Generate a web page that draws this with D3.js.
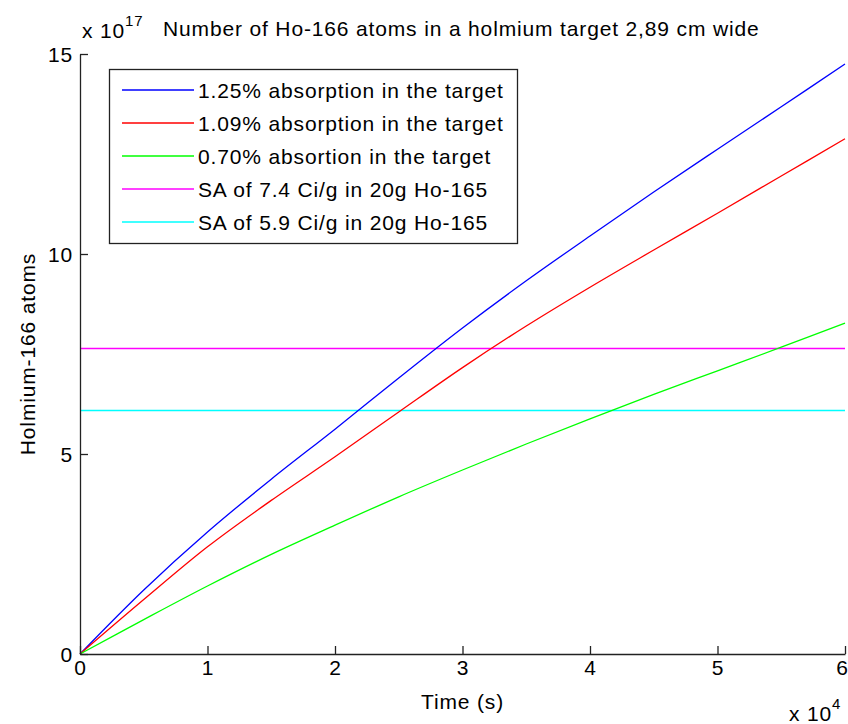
<!DOCTYPE html>
<html>
<head>
<meta charset="utf-8">
<script src="https://cdn.jsdelivr.net/npm/d3@7/dist/d3.min.js"></script>
<style>
  html, body { margin: 0; padding: 0; background: #fff; }
  svg { display: block; font-family: "Liberation Sans", Arial, sans-serif; }
  text { fill: #000; letter-spacing: 0.85px; }
</style>
</head>
<body>
<svg id="chart" width="848" height="724"></svg>
<script>
// Time in units of 10^4 s, atom counts in units of 10^17
const timeValues = [0, 0.5, 1, 1.5, 2, 2.5, 3, 3.5, 4, 4.5, 5, 5.5, 6];
const absorption125 = [0, 1.6, 3.05, 4.37, 5.62, 6.9, 8.15, 9.33, 10.45, 11.55, 12.62, 13.68, 14.75];
const absorption109 = [0, 1.36, 2.68, 3.84, 4.93, 6.05, 7.16, 8.2, 9.17, 10.1, 11.02, 11.95, 12.88];
const absorption070 = [0, 0.86, 1.7, 2.49, 3.22, 3.93, 4.6, 5.25, 5.88, 6.49, 7.08, 7.67, 8.27];
const sa74 = 7.64;
const sa59 = 6.09;

const seriesNames = [
  "1.25% absorption in the target",
  "1.09% absorption in the target",
  "0.70% absortion in the target",
  "SA of 7.4 Ci/g in 20g Ho-165",
  "SA of 5.9 Ci/g in 20g Ho-165"
];
const seriesColors = ["#0000ff", "#ff0000", "#00ff00", "#ff00ff", "#00ffff"];

const xTicks = [0, 1, 2, 3, 4, 5, 6];
const yTicks = [0, 5, 10, 15];

const titleText = "Number of Ho-166 atoms in a holmium target 2,89 cm wide";
const xLabel = "Time (s)";
const yLabel = "Holmium-166 atoms";

const svg = d3.select("#chart");
const plotLeft = 80, plotRight = 845, plotTop = 54, plotBottom = 654;

const x = d3.scaleLinear().domain([0, 6]).range([plotLeft, plotRight]);
const y = d3.scaleLinear().domain([0, 15]).range([plotBottom, plotTop]);

const FS = 21;

// Curves
const curves = [absorption125, absorption109, absorption070];
const line = d3.line()
  .x((d, i) => x(timeValues[i]))
  .y(d => y(d))
  .curve(d3.curveCatmullRom);

const plot = svg.append("g");
// Constant specific-activity levels
[sa74, sa59].forEach((v, k) => {
  plot.append("path")
    .attr("d", d3.line()([[x(0), y(v)], [x(6), y(v)]]))
    .attr("stroke", seriesColors[3 + k])
    .attr("stroke-width", 1.5)
    .attr("fill", "none");
});
curves.forEach((vals, k) => {
  plot.append("path")
    .datum(vals)
    .attr("d", line)
    .attr("stroke", seriesColors[k])
    .attr("stroke-width", 1.3)
    .attr("fill", "none");
});

// Axes with inward ticks
const xAxis = d3.axisBottom(x).tickValues(xTicks).tickSizeInner(-8).tickSizeOuter(0).tickPadding(6)
  .tickFormat(d3.format("d"));
const yAxis = d3.axisLeft(y).tickValues(yTicks).tickSizeInner(-8).tickSizeOuter(0).tickPadding(7)
  .tickFormat(d3.format("d"));

const gx = svg.append("g").attr("transform", `translate(0,${plotBottom})`).call(xAxis);
const gy = svg.append("g").attr("transform", `translate(${plotLeft},0)`).call(yAxis);
[gx, gy].forEach(g => {
  g.select(".domain").attr("stroke", "#222").attr("stroke-width", 1.3);
  g.selectAll(".tick line").attr("stroke", "#222").attr("stroke-width", 1.3);
  g.selectAll(".tick text").attr("font-size", FS).attr("font-family", null).attr("fill", "#000");
});
gy.selectAll(".tick text").attr("dy", "0.36em");
// keep the last x label inside the frame
gx.selectAll(".tick text").filter(d => d === 6).attr("dx", -3);

// Axis labels
svg.append("text")
  .attr("x", (plotLeft + plotRight) / 2).attr("y", 709)
  .attr("text-anchor", "middle").attr("font-size", FS)
  .text(xLabel);
svg.append("text")
  .attr("transform", `translate(35,${(plotTop + plotBottom) / 2}) rotate(-90)`)
  .attr("text-anchor", "middle").attr("font-size", FS)
  .text(yLabel);

// Exponent markers
const yExp = svg.append("text").attr("x", 82).attr("y", 38).attr("font-size", FS);
yExp.append("tspan").text("x 10");
yExp.append("tspan").attr("dy", -12).attr("font-size", 15).text("17");

const xExp = svg.append("text").attr("x", 789).attr("y", 721).attr("font-size", FS);
xExp.append("tspan").text("x 10");
xExp.append("tspan").attr("dy", -12).attr("font-size", 15).text("4");

// Title
svg.append("text")
  .attr("x", 163).attr("y", 36).attr("font-size", FS)
  .text(titleText);

// Legend
const legend = svg.append("g");
legend.append("rect")
  .attr("x", 109.5).attr("y", 69.5).attr("width", 408).attr("height", 174)
  .attr("fill", "#fff").attr("stroke", "#222").attr("stroke-width", 1.3);
const rowY = [90, 123, 156, 189, 222];
seriesNames.forEach((name, i) => {
  legend.append("line")
    .attr("x1", 122).attr("x2", 194).attr("y1", rowY[i]).attr("y2", rowY[i])
    .attr("stroke", seriesColors[i]).attr("stroke-width", 1.5);
  legend.append("text")
    .attr("x", 198).attr("y", rowY[i]).attr("dy", "0.36em")
    .attr("font-size", FS)
    .text(name);
});
</script>
</body>
</html>
